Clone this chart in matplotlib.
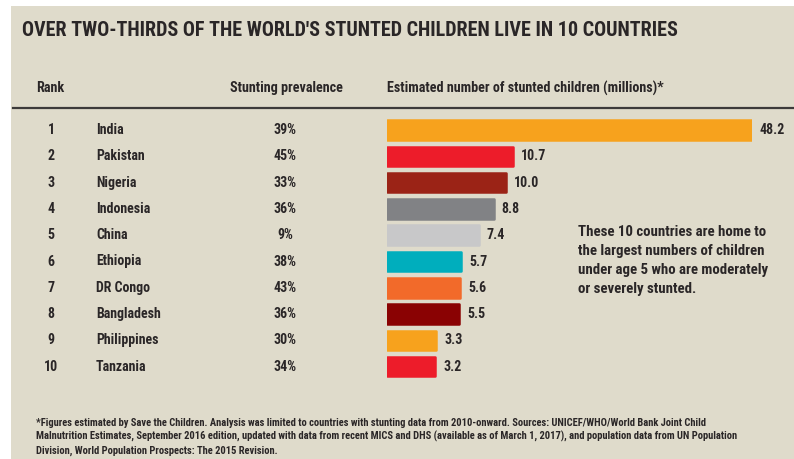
import matplotlib
matplotlib.use("Agg")
import matplotlib.pyplot as plt
from matplotlib.patches import Rectangle
from matplotlib.lines import Line2D
import matplotlib.transforms as mtransforms
from matplotlib import font_manager

ranks = [1, 2, 3, 4, 5, 6, 7, 8, 9, 10]
countries = ["India", "Pakistan", "Nigeria", "Indonesia", "China", "Ethiopia",
             "DR Congo", "Bangladesh", "Philippines", "Tanzania"]
prevalence = ["39%", "45%", "33%", "36%", "9%", "38%", "43%", "36%", "30%", "34%"]
stunted_millions = [48.2, 10.7, 10.0, 8.8, 7.4, 5.7, 5.6, 5.5, 3.3, 3.2]
bar_colors = ["#F7A21D", "#ED1C2A", "#9B2316", "#818285", "#C8C8C9", "#00AEBD",
              "#F26A2A", "#8A0203", "#F7A21D", "#ED1C2A"]

title = "OVER TWO-THIRDS OF THE WORLD'S STUNTED CHILDREN LIVE IN 10 COUNTRIES"
headers = ["Rank", "Stunting prevalence", "Estimated number of stunted children (millions)*"]
note_lines = ["These 10 countries are home to", "the largest numbers of children",
              "under age 5 who are moderately", "or severely stunted."]
footnote_lines = [
    "*Figures estimated by Save the Children. Analysis was limited to countries with stunting data from 2010-onward. Sources: UNICEF/WHO/World Bank Joint Child",
    "Malnutrition Estimates, September 2016 edition, updated with data from recent MICS and DHS (available as of March 1, 2017), and population data from UN Population",
    "Division, World Population Prospects: The 2015 Revision.",
]

def _w(f):
    w = f.weight
    if isinstance(w, (int, float)):
        return w
    return {"bold": 700, "semibold": 600, "demibold": 600, "heavy": 800, "black": 900}.get(str(w).lower(), 400)

FONT = "DejaVu Sans"
for cand in ["Oswald", "Roboto Condensed", "Barlow Condensed", "Fira Sans Condensed",
             "IBM Plex Sans Condensed", "Archivo Narrow", "PT Sans Narrow", "Open Sans Condensed"]:
    if any(f.name == cand and _w(f) >= 600 for f in font_manager.fontManager.ttflist):
        FONT = cand
        break
plt.rcParams['font.family'] = [FONT, 'DejaVu Sans']
WEIGHT = "bold"

W, H = 794, 459
BG = "#DFDBCB"
TXT = "#2A2627"

fig = plt.figure(figsize=(W / 100, H / 100), dpi=100)
fig.patch.set_facecolor("white")

def fx(px):
    return px / W

def fy(py):
    return 1 - py / H

fig.patches.append(Rectangle((fx(11), 0), 1 - fx(11), fy(6), transform=fig.transFigure,
                             facecolor=BG, edgecolor="none", zorder=-5))

# bar axes (the longest bar is truncated at the right edge, as in the reference)
px_per_unit = 10.4
base_px = 15.0
top_px, bot_px = 116.85, 379.85
left_px, right_px = 387, 752
ax = fig.add_axes([fx(left_px), fy(bot_px), fx(right_px - left_px), (bot_px - top_px) / H])
ax.set_facecolor("none")
x0 = -base_px / px_per_unit
x1 = x0 + (right_px - left_px) / px_per_unit
ax.set_xlim(x0, x1)
ax.set_ylim(len(countries) - 0.5, -0.5)
ax.axis("off")

y = list(range(len(countries)))
widths = [v - x0 for v in stunted_millions]
bars = ax.barh(y, widths, left=x0, height=0.74, color=bar_colors, edgecolor=bar_colors,
               linewidth=1.8)
for b in bars:
    b.set_joinstyle("round")

renderer = fig.canvas.get_renderer()

def fit(t, width_px):
    bb = t.get_window_extent(renderer)
    t.set_fontsize(t.get_fontsize() * width_px / bb.width)
    return t.get_fontsize()

probe = fig.text(0, 0, "Bangladesh", fontsize=10, fontweight=WEIGHT)
FS = fit(probe, 65)
probe.remove()

trans = mtransforms.blended_transform_factory(fig.transFigure, ax.transData)
for i in y:
    xv = min(stunted_millions[i], x1)
    ax.annotate(f"{stunted_millions[i]:.1f}", (xv, i), xytext=(8, 0), textcoords="offset pixels",
                ha="left", va="center", fontsize=FS, fontweight=WEIGHT, color=TXT,
                annotation_clip=False)
    ax.text(fx(51), i, str(ranks[i]), transform=trans, ha="center", va="center",
            fontsize=FS, fontweight=WEIGHT, color=TXT)
    ax.text(fx(96), i, countries[i], transform=trans, ha="left", va="center",
            fontsize=FS, fontweight=WEIGHT, color=TXT)
    ax.text(fx(285), i, prevalence[i], transform=trans, ha="center", va="center",
            fontsize=FS, fontweight=WEIGHT, color=TXT)

tt = fig.text(fx(22), fy(30), title, ha="left", va="center", fontsize=15,
              fontweight=WEIGHT, color=TXT)
fit(tt, 662)
h2 = fig.text(fx(387), fy(88), headers[2], ha="left", va="center", fontsize=9.5,
              fontweight=WEIGHT, color=TXT)
HFS = fit(h2, 278)
fig.text(fx(36), fy(88), headers[0], ha="left", va="center", fontsize=HFS, fontweight=WEIGHT, color=TXT)
fig.text(fx(230), fy(88), headers[1], ha="left", va="center", fontsize=HFS, fontweight=WEIGHT, color=TXT)

fig.add_artist(Line2D([fx(13), 1], [fy(107.5), fy(107.5)], transform=fig.transFigure,
                      color="#3C3A3A", linewidth=1.6))

probe = fig.text(0, 0, note_lines[2], fontsize=10, fontweight=WEIGHT)
NFS = fit(probe, 190)
probe.remove()
for k, line in enumerate(note_lines):
    fig.text(fx(578), fy(232 + 19 * k), line, ha="left", va="center", fontsize=NFS,
             fontweight=WEIGHT, color=TXT)

probe = fig.text(0, 0, footnote_lines[1], fontsize=7, fontweight=WEIGHT)
FFS = fit(probe, 702)
probe.remove()
for k, line in enumerate(footnote_lines):
    fig.text(fx(36), fy(422.5 + 14 * k), line, ha="left", va="center", fontsize=FFS,
             fontweight=WEIGHT, color=TXT)

fig.savefig("out.png", dpi=100, facecolor=fig.get_facecolor())
